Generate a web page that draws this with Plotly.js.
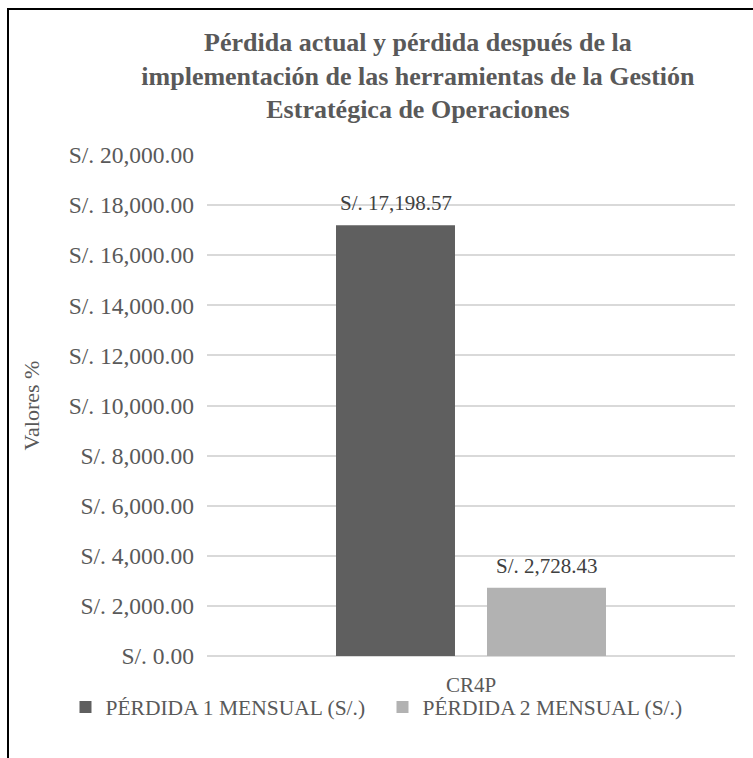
<!DOCTYPE html>
<html>
<head>
<meta charset="utf-8">
<script src="https://cdn.plot.ly/plotly-3.0.1.min.js"></script>
<style>
  html, body { margin: 0; padding: 0; background: #ffffff; }
  #wrap { position: relative; width: 753px; height: 758px; }
  #chart { position: absolute; left: 0; top: 0; width: 753px; height: 758px; }
  #frame { position: absolute; left: 7px; top: 8px; right: 0; bottom: 0;
           border-left: 2px solid #000; border-top: 2px solid #000; pointer-events: none; }
</style>
</head>
<body>
<div id="wrap">
  <div id="chart"></div>
  <div id="frame"></div>
</div>
<script>
const categories = ['CR4P'];
const seriesNames = ['PÉRDIDA 1 MENSUAL (S/.)', 'PÉRDIDA 2 MENSUAL (S/.)'];
const perdida1 = [17198.57];
const perdida2 = [2728.43];
const seriesColors = ['#5f5f5f', '#b2b2b2'];
const titleText = 'Pérdida actual y pérdida después de la<br>implementación de las herramientas de la Gestión<br>Estratégica de Operaciones';
const yTitle = 'Valores %';

const font = 'Liberation Serif, Times New Roman, serif';
const txtColor = '#595959';

const values = [perdida1, perdida2];
const traces = values.map((v, i) => ({
  type: 'bar',
  name: seriesNames[i],
  x: categories,
  y: v,
  marker: { color: seriesColors[i] },
  hoverinfo: 'skip'
}));

// data labels above bars (offset per series within the group)
const groupOffsets = [-75.5, 75.5];
const annotations = [];
values.forEach((v, i) => {
  v.forEach((val, j) => {
    annotations.push({
      x: categories[j], y: val, xref: 'x', yref: 'y',
      text: 'S/. ' + val.toLocaleString('en-US', { minimumFractionDigits: 2, maximumFractionDigits: 2 }),
      showarrow: false, xanchor: 'center', yanchor: 'middle',
      xshift: groupOffsets[i], yshift: 22,
      font: { family: font, size: 21, color: '#404040' }
    });
  });
});

const layout = {
  width: 753, height: 758,
  paper_bgcolor: '#ffffff', plot_bgcolor: '#ffffff',
  margin: { l: 207, r: 18, t: 155, b: 102, autoexpand: false },
  font: { family: font, color: txtColor, size: 21 },
  title: {
    text: titleText,
    font: { family: font, size: 26, color: txtColor, weight: 'bold' },
    xref: 'container', x: 0.555, xanchor: 'center',
    yref: 'container', y: 0.933, yanchor: 'top'
  },
  barmode: 'group',
  bargap: 0.428,
  bargroupgap: 0.212,
  xaxis: {
    showgrid: false, zeroline: false, showline: false,
    ticks: '', ticklabelstandoff: 14,
    tickfont: { family: font, size: 21, color: txtColor },
    fixedrange: true
  },
  yaxis: {
    range: [0, 20000], dtick: 2000, tick0: 0,
    tickprefix: 'S/. ', tickformat: ',.2f',
    showgrid: true, gridcolor: '#d9d9d9', gridwidth: 2,
    zeroline: true, zerolinecolor: '#d9d9d9', zerolinewidth: 2,
    showline: false, ticks: '', ticklabelstandoff: 12,
    tickfont: { family: font, size: 23.5, color: txtColor },
    title: { text: yTitle, font: { family: font, size: 22, color: txtColor }, standoff: 22 },
    fixedrange: true
  },
  annotations: annotations,
  showlegend: true,
  legend: {
    orientation: 'h', x: -0.268, xanchor: 'left', xref: 'paper',
    y: -0.102, yanchor: 'middle', yref: 'paper',
    bgcolor: 'rgba(0,0,0,0)',
    font: { family: font, size: 21.5, color: txtColor },
    itemwidth: 30, entrywidth: 272, entrywidthmode: 'pixels', traceorder: 'normal'
  }
};

Plotly.newPlot('chart', traces, layout, { displayModeBar: false, staticPlot: true });
</script>
</body>
</html>
